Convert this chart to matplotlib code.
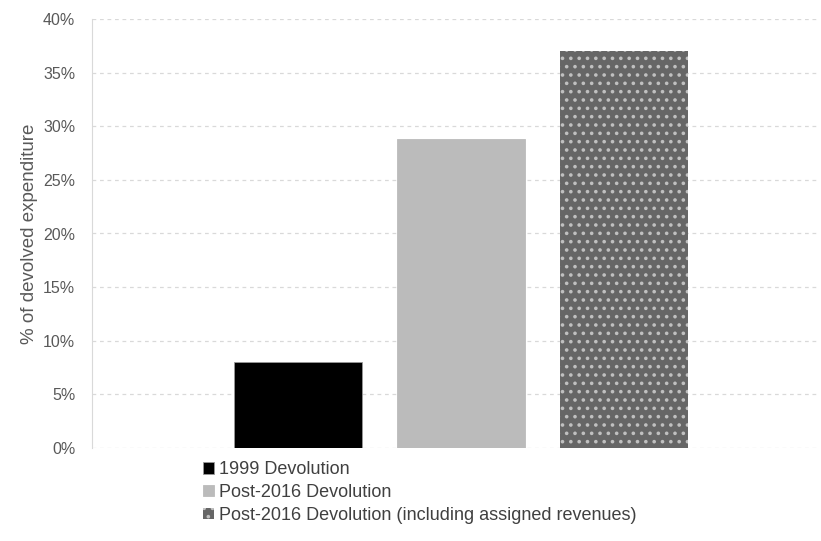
import matplotlib
matplotlib.use('Agg')
import matplotlib.pyplot as plt
import numpy as np

plt.rcParams['font.family'] = ['Liberation Sans', 'DejaVu Sans']
plt.rcParams['hatch.linewidth'] = 1.4

# data
labels = ['1999 Devolution', 'Post-2016 Devolution',
          'Post-2016 Devolution (including assigned revenues)']
values = [8.0, 28.8, 37.0]  # % of devolved expenditure
yticks = [0, 5, 10, 15, 20, 25, 30, 35, 40]

colors = ['#000000', '#bbbbbb', '#666666']
edges = ['#999999', '#bbbbbb', '#c0c0c0']  # last one is the dot colour
hatches = [None, None, '..']
lws = [0.6, 0.6, 0]

fig = plt.figure(figsize=(8.21, 5.41), dpi=100)
ax = fig.add_axes([92/821, 1-448/541, (818-92)/821, (448-19)/541])

x = np.arange(len(values))
for i in range(len(values)):
    ax.bar(x[i], values[i], width=0.785, facecolor=colors[i], hatch=hatches[i],
           edgecolor=edges[i], linewidth=lws[i], label=labels[i], zorder=3)

ax.set_xlim(-1.26, 3.19)
ax.set_ylim(0, 40)
ax.set_yticks(yticks)
ax.set_yticklabels([f'{t}%' for t in yticks], color='#595959', fontsize=11.5)
ax.set_xticks([])
ax.tick_params(axis='y', length=0, pad=12)
ax.grid(axis='y', color='#d9d9d9', linestyle=(0, (3, 3)), linewidth=0.9, zorder=0)
for s in ['top', 'right', 'bottom']:
    ax.spines[s].set_visible(False)
ax.spines['left'].set_color('#d9d9d9')
ax.set_ylabel('% of devolved expenditure', color='#595959', fontsize=13.5, labelpad=4)

fig.legend(loc='upper left', bbox_to_anchor=(196/821, 1-454/541), frameon=False,
           handlelength=0.6, handleheight=0.6, handletextpad=0.25,
           labelspacing=0.32, fontsize=13, labelcolor='#404040', borderaxespad=0)

fig.savefig('out.png', dpi=100)
